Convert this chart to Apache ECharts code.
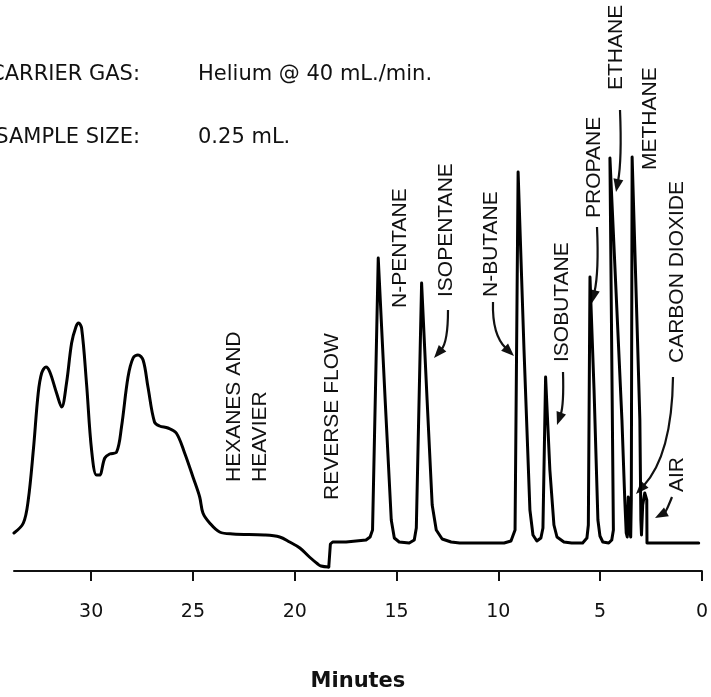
<!DOCTYPE html>
<html><head><meta charset="utf-8">
<script src="https://cdn.jsdelivr.net/npm/echarts@6/dist/echarts.min.js"></script>
<style>html,body{margin:0;padding:0;background:#fff}#c{width:711px;height:697px}</style>
</head><body><div id="c"></div>
<script>
// Heavy-end hump (hexanes and heavier) + reverse flow dip, minutes vs detector signal
const hexTime = [33.79,33.33,33.09,32.84,32.60,32.43,32.22,32.03,31.70,31.45,31.21,30.96,30.75,30.62,30.47,30.23,29.98,29.74,29.59,29.33,29.09,28.75,28.51,28.19,27.94,27.70,27.45,27.21,26.89,26.64,26.23,25.82,25.41,25.00,24.67,24.51,24.18,23.69,23.04,21.50,20.74,20.25,19.75,19.28,18.87,18.71,18.33];
const hexSignal = [10,20,43,93,150,170,176,171,150,136,160,200,216,220,215,160,93,68,68,85,89,91,116,166,185,188,183,156,121,117,115,110,90,66,46,30,20,11,9,8,6,1,-5,-14,-21,-23,-24];
// Light-end peaks after the flow reversal
const peakTime = [18.33,18.25,18.14,17.48,16.50,16.30,16.18,15.90,15.56,15.26,15.11,14.87,14.38,14.13,14.03,13.77,13.50,13.25,13.05,12.76,12.32,11.90,9.72,9.38,9.18,9.03,8.74,8.45,8.30,8.11,7.91,7.81,7.68,7.47,7.27,7.12,6.78,6.40,5.86,5.65,5.58,5.50,5.30,5.11,5.01,4.87,4.58,4.43,4.35,4.52,3.93,3.79,3.72,3.67,3.62,3.54,3.50,3.47,3.43,3.05,3.00,2.97,2.91,2.81,2.71,2.70,0.16];
const peakSignal = [-24,-1,1,1,3,6,13,285,143,23,5,1,0,3,15,260,143,38,13,4,1,0,0,2,13,371,193,33,8,2,5,15,166,73,18,6,1,0,0,5,18,266,153,23,7,1,0,3,13,385,123,43,10,6,46,10,6,43,386,123,23,8,38,50,43,0,0];
const tickValues = [0,5,10,15,20,25,30];
const axisTitle = 'Minutes';
const headerKeys = ['CARRIER GAS:','SAMPLE SIZE:'];
const headerValues = ['Helium @ 40 mL./min.','0.25 mL.'];
const peakNames = ['N-PENTANE','ISOPENTANE','N-BUTANE','ISOBUTANE','PROPANE','ETHANE','METHANE','CARBON DIOXIDE','AIR','HEXANES AND','HEAVIER','REVERSE FLOW'];

// ---- layout (pixels) ----
const labelPos = [[400,308],[446,297],[491,297],[562,362],[594,218],[616,90],[650,170],[677,363],[677,492],[234,482],[260,482],[332,500]];
const arrows = [
  [[448,310],[448,342],[434,358]],
  [[493,302],[492,335],[514,356]],
  [[563,372],[564,405],[557,425]],
  [[597,227],[599,272],[592,303]],
  [[620,110],[622,160],[616,192]],
  [[673,377],[672,455],[636,494]],
  [[672,497],[666,512],[655,518]]
];

const hexData = hexTime.map((t,i)=>[t,hexSignal[i]]);
const peakData = peakTime.map((t,i)=>[t,peakSignal[i]]);

const graphics = [];
const hdrFont = '21px "DejaVu Sans"';
headerKeys.forEach((k,i)=>{
  graphics.push({type:'text', x:140, y:75+63*i, style:{text:k, font:hdrFont, fill:'#111', align:'right', verticalAlign:'middle', textAlign:'right', textVerticalAlign:'middle'}});
  graphics.push({type:'text', x:198, y:75+63*i, style:{text:headerValues[i], font:hdrFont, fill:'#111', align:'left', verticalAlign:'middle', textAlign:'left', textVerticalAlign:'middle'}});
});
peakNames.forEach((n,i)=>{
  graphics.push({type:'text', x:labelPos[i][0], y:labelPos[i][1], rotation:Math.PI/2,
    style:{text:n, font:'21px "Liberation Sans"', fill:'#111', align:'left', verticalAlign:'middle', textAlign:'left', textVerticalAlign:'middle'}});
});
arrows.forEach(a=>{
  const [s,c,e]=a;
  let dx=e[0]-c[0], dy=e[1]-c[1]; const L=Math.hypot(dx,dy); dx/=L; dy/=L;
  const len=13, hw=5;
  const bx=e[0]-dx*len, by=e[1]-dy*len;
  graphics.push({type:'bezierCurve', shape:{x1:s[0],y1:s[1],cpx1:c[0],cpy1:c[1],x2:bx+dx*2,y2:by+dy*2}, style:{stroke:'#111', lineWidth:2.2, fill:null}});
  graphics.push({type:'polygon', shape:{points:[[e[0],e[1]],[bx-dy*hw,by+dx*hw],[bx+dy*hw,by-dx*hw]]}, style:{fill:'#111'}});
});

const chart = echarts.init(document.getElementById('c'), null, {renderer:'canvas'});
chart.setOption({
  animation:false,
  backgroundColor:'#fff',
  grid:{left:14, right:7.7, top:143, bottom:126, containLabel:false},
  xAxis:{type:'value', inverse:true, min:0, max:33.79, interval:5,
    name:axisTitle, nameLocation:'middle', nameGap:100,
    nameTextStyle:{fontFamily:'DejaVu Sans', fontWeight:'bold', fontSize:21, color:'#111'},
    axisLine:{show:true, onZero:false, lineStyle:{color:'#111', width:2}},
    axisTick:{show:true, length:10, lineStyle:{color:'#111', width:2}, customValues:tickValues},
    axisLabel:{margin:32, fontFamily:'DejaVu Sans', fontSize:19, color:'#111', customValues:tickValues},
    splitLine:{show:false}},
  yAxis:{type:'value', min:-28, max:400, show:false, splitLine:{show:false}},
  series:[
    {type:'line', data:hexData, smooth:0.35, symbol:'none', lineStyle:{color:'#000', width:3, join:'round', cap:'round'}},
    {type:'line', data:peakData, smooth:false, symbol:'none', lineStyle:{color:'#000', width:3, join:'round', cap:'round'}}
  ],
  graphic:graphics
});
</script></body></html>
